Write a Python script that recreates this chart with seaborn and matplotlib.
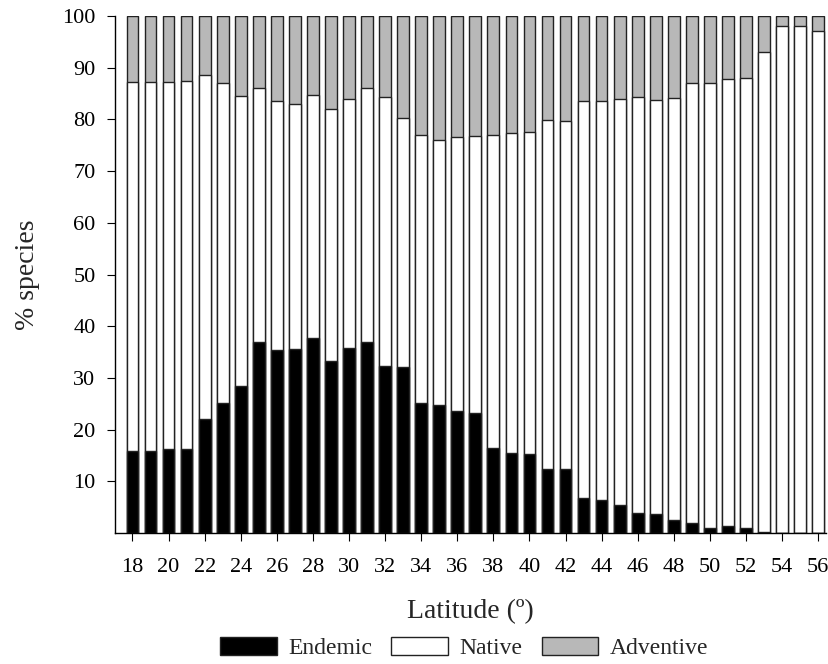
import matplotlib
matplotlib.use("Agg")
import matplotlib.pyplot as plt
import seaborn as sns
import pandas as pd
from matplotlib.patches import Patch

latitude = list(range(18, 57))

endemic = [15.9, 15.9, 16.3, 16.3, 22.1, 25.1, 28.4, 36.9, 35.4, 35.6,
           37.8, 33.3, 35.8, 36.9, 32.3, 32.2, 25.1, 24.8, 23.7, 23.3,
           16.4, 15.5, 15.3, 12.4, 12.4, 6.9, 6.4, 5.4, 3.9, 3.7,
           2.6, 1.9, 1.1, 1.4, 1.1, 0.3, 0.0, 0.0, 0.0]

# endemic + native (top of the white part)
endemic_native = [87.2, 87.2, 87.2, 87.5, 88.5, 87.0, 84.6, 86.0, 83.6, 83.0,
                  84.8, 82.1, 84.0, 86.0, 84.4, 80.2, 77.0, 76.0, 76.6, 76.8,
                  77.0, 77.3, 77.6, 79.8, 79.6, 83.6, 83.5, 83.9, 84.3, 83.7,
                  84.1, 87.1, 87.1, 87.9, 88.0, 93.1, 98.1, 98.1, 97.1]

native = [t - e for t, e in zip(endemic_native, endemic)]
adventive = [100 - t for t in endemic_native]

df = pd.DataFrame({"Latitude": latitude, "Endemic": endemic,
                   "Native": native, "Adventive": adventive})
df["lvl1"] = df["Endemic"]
df["lvl2"] = df["Endemic"] + df["Native"]
df["lvl3"] = df["lvl2"] + df["Adventive"]

sns.set_style("ticks")
plt.rcParams["font.family"] = ["Liberation Serif", "DejaVu Serif"]

fig = plt.figure(figsize=(8.29, 6.64), dpi=100)
ax = fig.add_axes([0.1387, 0.197, 0.858, 0.779])

edge = "#222222"
kw = dict(width=0.65, edgecolor=edge, linewidth=1.0, ax=ax)
sns.barplot(data=df, x="Latitude", y="lvl3", color="#b8b8b8", saturation=1, **kw)
sns.barplot(data=df, x="Latitude", y="lvl2", color="white", saturation=1, **kw)
sns.barplot(data=df, x="Latitude", y="lvl1", color="black", saturation=1, **kw)

ax.set_xlim(-0.97, 38.45)
ax.set_ylim(0, 100)
ax.set_yticks(range(10, 101, 10))
ticks = list(range(0, 39, 2))
ax.set_xticks(ticks)
ax.set_xticklabels([str(latitude[i]) for i in ticks])

ax.tick_params(axis="both", labelsize=16, colors="black", direction="out")
ax.tick_params(axis="x", length=6, pad=12)
ax.tick_params(axis="y", length=6, pad=8)

sns.despine(ax=ax)
for s in ["left", "bottom"]:
    ax.spines[s].set_color("black")
    ax.spines[s].set_linewidth(1.0)

ax.set_xlabel("Latitude (º)", fontsize=20, labelpad=16)
ax.set_ylabel("% species", fontsize=20, labelpad=16)

handles = [Patch(facecolor="black", edgecolor=edge, label="Endemic"),
           Patch(facecolor="white", edgecolor=edge, label="Native"),
           Patch(facecolor="#b8b8b8", edgecolor=edge, label="Adventive")]
fig.legend(handles=handles, loc="lower center", bbox_to_anchor=(0.56, -0.025),
           ncol=3, frameon=False, fontsize=17, handlelength=2.4,
           handleheight=0.75, columnspacing=0.8, handletextpad=0.5)

fig.savefig("out.png", dpi=100)
